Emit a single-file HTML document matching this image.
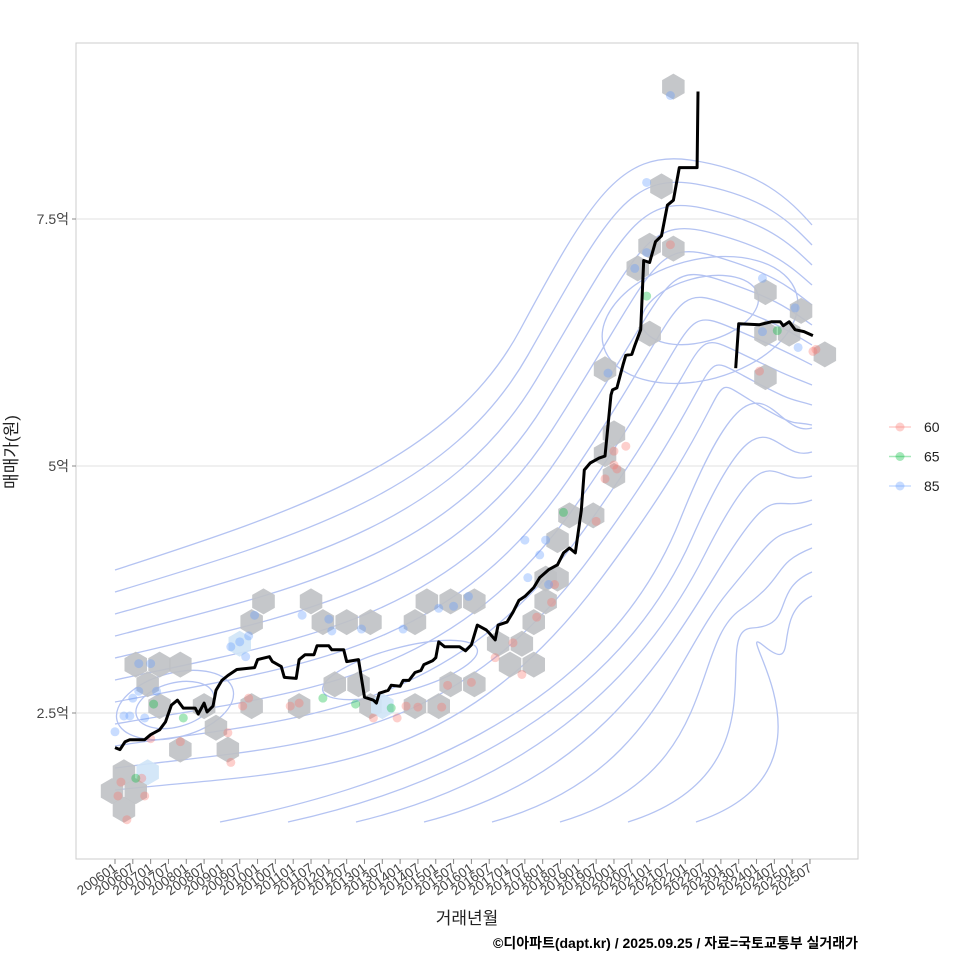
<!DOCTYPE html>
<html><head><meta charset="utf-8"><style>
body{margin:0;background:#fff;}
svg text{font-family:"Liberation Sans","Noto Sans CJK KR",sans-serif;}
</style></head><body>
<svg id="c" width="960" height="960" xmlns="http://www.w3.org/2000/svg">
<rect x="76" y="43" width="782" height="816" fill="#fff" stroke="#ccc"/>
<g id="grid"></g><g id="contours"></g><g id="hexes"></g><g id="pts"></g><g id="line"></g><g id="axes"></g>
<text x="17" y="452" transform="rotate(-90 17 452)" text-anchor="middle" font-size="17" fill="#222">매매가(원)</text>
<text x="467" y="924" text-anchor="middle" font-size="17" fill="#222">거래년월</text>
<text x="858" y="948" text-anchor="end" font-size="14" font-weight="bold" fill="#000">©디아파트(dapt.kr) / 2025.09.25 / 자료=국토교통부 실거래가</text>
<g id="legend"></g>
</svg>
<script>
const yTicks=[2.5,5,7.5];
const yTickLabels=["2.5억","5억","7.5억"];
const xTickLabels=[];
for(let y=2006;y<=2025;y++){xTickLabels.push(y+"01");xTickLabels.push(y+"07");}
const lineMonths=[0,1.7,3.4,5,10,12,15,17,19,21,23,27,28,30,31,33,34,36,38,41,47,48,52,53,56,57,61,62,64,67,68,72,73,77,78,82,84,87,88,89,92,93,96,97,99,101,103,104,107,108,109,111,116,118,120,122,125,126,128,129,132,134,136,138,141,143,146,149,151,153,155,157,158,160,163,165,167,167.5,169,171,172,174,175,177,178,180,182,184,186,188,190,196,196.3];
const lineValues=[2.15,2.13,2.21,2.23,2.23,2.28,2.33,2.41,2.58,2.63,2.55,2.55,2.49,2.60,2.51,2.57,2.73,2.83,2.88,2.94,2.96,3.04,3.07,3.02,2.97,2.86,2.85,3.04,3.09,3.09,3.18,3.18,3.14,3.14,3.02,3.04,2.66,2.63,2.60,2.70,2.73,2.78,2.77,2.83,2.83,2.91,2.93,2.99,3.03,3.06,3.22,3.17,3.17,3.13,3.19,3.39,3.34,3.31,3.24,3.39,3.42,3.52,3.64,3.68,3.77,3.87,3.95,4.0,4.12,4.17,4.12,4.55,4.96,5.03,5.08,5.10,5.72,5.77,5.79,6.02,6.12,6.13,6.22,6.38,7.08,7.06,7.27,7.33,7.64,7.69,8.02,8.02,8.79];
const line2Months=[209,210,217,221,224,225,227,229,232,235];
const line2Values=[5.99,6.44,6.43,6.46,6.46,6.42,6.46,6.38,6.36,6.32];
const hexMonths=[3,-1,7,3,11,7,15,22,11,15,22,30,34,38,46,42,46,50,62,66,70,74,78,82,86,86,90,101,105,101,109,113,113,121,121,129,133,137,141,141,145,145,149,149,153,161,165,168,168,165,176,180,180,184,188,188,219,219,219,227,231,239];
const hexValues=[1.9,1.71,1.71,1.52,1.9,2.99,2.99,2.99,2.79,2.57,2.13,2.57,2.35,2.13,2.57,3.2,3.42,3.63,2.57,3.63,3.42,2.79,3.42,2.79,3.42,2.57,2.57,3.42,3.63,2.57,2.57,3.63,2.79,3.63,2.79,3.2,2.99,3.2,2.99,3.42,3.63,3.86,3.86,4.25,4.5,4.5,5.98,5.33,4.9,5.12,7.0,7.23,6.34,7.83,8.84,7.2,6.76,5.9,6.34,6.34,6.57,6.13];
const hexLight=[4,15,26];
const ptMonths=[2,1,9,10,4,12,22,38,39,43,45,59,62,87,95,98,102,110,112,120,128,134,137,142,147,148,162,165,168,168,169,172,187,217,235,236, 7,13,23,70,81,93,151,179,223, 0,3,5,6,8,10,12,14,8,39,42,45,44,47,63,72,73,83,97,109,114,119,138,139,143,145,146,166,175,179,187,179,218,229,230,218];
const ptValues=[1.80,1.66,1.84,1.66,1.42,2.24,2.21,2.30,2.00,2.57,2.65,2.57,2.60,2.45,2.45,2.57,2.56,2.56,2.78,2.81,3.06,3.21,2.89,3.47,3.62,3.80,4.44,4.87,5.15,5.01,4.97,5.20,7.24,5.96,6.16,6.18,1.84,2.59,2.45,2.65,2.59,2.55,4.53,6.72,6.37,2.31,2.47,2.47,2.65,3.0,2.45,3.0,2.72,2.72,3.17,3.22,3.28,3.07,3.49,3.49,3.45,3.33,3.35,3.35,3.56,3.58,3.68,4.25,3.87,4.10,4.25,3.80,5.94,7.00,7.87,8.75,7.16,6.90,6.60,6.20,6.36];
const ptGroups=[];
for(let i=0;i<36;i++)ptGroups.push("60");for(let i=0;i<9;i++)ptGroups.push("65");for(let i=0;i<36;i++)ptGroups.push("85");
const legendLabels=["60","65","85"];
const colors={"60":"#f8766d","65":"#00ba38","85":"#619cff"};

const NS="http://www.w3.org/2000/svg";
function X(m){return 115+m*17.82/6;}
function Y(v){return 713-(v-2.5)*98.8;}
function mk(tag,attrs,parent){const e=document.createElementNS(NS,tag);for(const k in attrs)e.setAttribute(k,attrs[k]);document.getElementById(parent).appendChild(e);return e;}

yTicks.forEach((t,i)=>{
 const g=mk("line",{x1:76,x2:858,y1:Y(t),y2:Y(t),stroke:"#e2e2e2"},"grid");
 
 
 const tk=mk("line",{x1:72,x2:76,y1:Y(t),y2:Y(t),stroke:"#888"},"axes");
 
 
 const tx=mk("text",{x:69,y:Y(t)+5,"text-anchor":"end","font-size":14,fill:"#444"},"axes");
 tx.textContent=yTickLabels[i];
 
 
});
xTickLabels.forEach((l,i)=>{
 const x=X(i*6);
 const tk=mk("line",{x1:x,x2:x,y1:859,y2:864,stroke:"#888"},"axes");
 
 
 const tx=mk("text",{x:x+3,y:870,"text-anchor":"end","font-size":13.5,fill:"#444",transform:`rotate(-35 ${x+3} 870)`},"axes");
 tx.textContent=l;
 
 
});

// decorative density contours
const cs="#b4c3f2";
for(let k=0;k<11;k++){
 const y0=570+22*k;
 const d=`M115,${y0} C300,${y0-60+k*4} 450,${y0-110+k*10} ${520+k*8},${330+k*25} S${620+k*8},${150+k*22} ${690+k*6},${160+k*24} S${790},${200+k*22} 812,${225+k*20}`;
 const p=mk("path",{d:d,fill:"none",stroke:cs,"stroke-width":1.3},"contours");
 
 
}
for(let k=0;k<8;k++){
 const x0=220+68*k;
 const d=`M${x0},822 C${x0+160},${790-k*3} ${600+k*18},${720-k*15} ${680+k*12},${520+k*18} S${770},${440+k*25} 812,${428+k*24}`;
 const p=mk("path",{d:d,fill:"none",stroke:cs,"stroke-width":1.3},"contours");
 
 
}
[[175,705,60,32],[175,705,40,22],[400,670,80,22],[700,320,100,60],[700,310,60,32]].forEach(e=>{
 const el=mk("ellipse",{cx:e[0],cy:e[1],rx:e[2],ry:e[3],fill:"none",stroke:cs,"stroke-width":1.3,transform:`rotate(-15 ${e[0]} ${e[1]})`},"contours");
 
 
});

hexMonths.forEach((m,i)=>{
 const cx=X(m),cy=Y(hexValues[i]),r=13;let pts=[];
 for(let a=0;a<6;a++){const t=Math.PI/3*a+Math.PI/6;pts.push((cx+r*Math.cos(t)).toFixed(1)+","+(cy+r*Math.sin(t)).toFixed(1));}
 const h=mk("polygon",{points:pts.join(" "),fill:hexLight.includes(i)?"#cfe4f7":"#bfc1c4",opacity:0.9},"hexes");
 
 
});
ptMonths.forEach((m,i)=>{
 const c=mk("circle",{cx:X(m),cy:Y(ptValues[i]),r:4.5,fill:colors[ptGroups[i]],"fill-opacity":0.35},"pts");
 
 
});
function stepPath(ms,vs){let d="";ms.forEach((m,i)=>{d+=(i?"L":"M")+X(m).toFixed(1)+","+Y(vs[i]).toFixed(1);});return d;}
const l1=mk("path",{d:stepPath(lineMonths,lineValues),fill:"none",stroke:"#000","stroke-width":3,"stroke-linejoin":"round"},"line");


const l2=mk("path",{d:stepPath(line2Months,line2Values),fill:"none",stroke:"#000","stroke-width":3,"stroke-linejoin":"round"},"line");



legendLabels.forEach((l,i)=>{
 const y=427+29.5*i;
 const ln=mk("line",{x1:889,x2:911,y1:y,y2:y,stroke:colors[l],"stroke-opacity":0.35,"stroke-width":1.5},"legend");
 
 
 const c=mk("circle",{cx:900,cy:y,r:4.5,fill:colors[l],"fill-opacity":0.35},"legend");
 
 
 const t=mk("text",{x:924,y:y+5,"font-size":14,fill:"#222"},"legend");
 t.textContent=l;
 
 
});
</script>
</body></html>
